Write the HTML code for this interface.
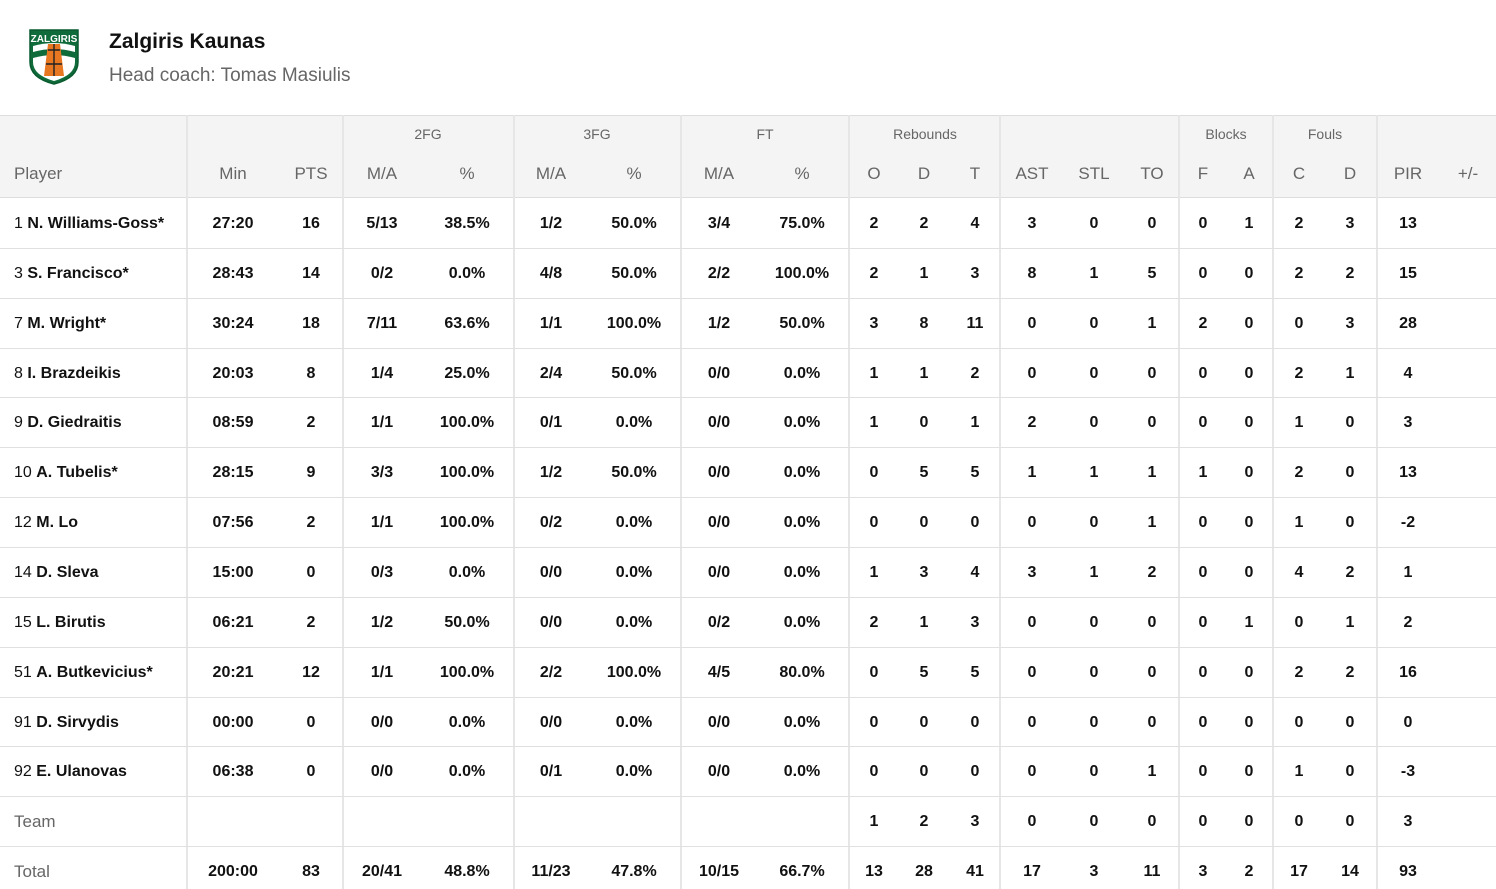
<!DOCTYPE html>
<html><head><meta charset="utf-8">
<style>
html,body{margin:0;padding:0;background:#fff;}
body{width:1496px;height:889px;position:relative;overflow:hidden;font-family:"Liberation Sans",sans-serif;}
.t{position:absolute;white-space:nowrap;}
.c{transform:translateX(-50%);}
.hl{position:absolute;left:0;width:1496px;height:1px;background:#e0e0e0;}
.vl{position:absolute;top:115px;width:2px;height:774px;background:#e6e6e6;}
.h{color:#666;font-size:17px;}
.g{color:#666;font-size:14px;}
.b{color:#111;font-size:16px;font-weight:bold;}
</style></head><body>
<svg style="position:absolute;left:28px;top:28px" width="54" height="58" viewBox="0 0 54 58">
<path d="M2 2 H50 V34 Q50 50 26 56 Q2 50 2 34 Z" fill="#0f6b3a" stroke="#0a5a30" stroke-width="1.5"/>
<path d="M5 18 Q26 12 47 18 V34 Q47 47 26 53 Q5 47 5 34 Z" fill="#fff"/>
<path d="M5 24 Q26 18 47 24 V30 Q26 24 5 30Z" fill="#0f6b3a"/>
<path d="M20 16 H32 L36 48 H16 Z" fill="#e87722"/>
<path d="M26 16 V48 M20 22 H32 M18 36 H34" stroke="#222" stroke-width="1.4"/>
<text x="26" y="14" font-family="Liberation Sans" font-size="10" font-weight="bold" fill="#fff" text-anchor="middle">ZALGIRIS</text>
</svg>
<div class="t" style="left:109px;top:30px;font-size:21px;font-weight:bold;color:#111">Zalgiris Kaunas</div>
<div class="t" style="left:109px;top:65px;font-size:19px;color:#666">Head coach: Tomas Masiulis</div>
<div style="position:absolute;left:0;top:115px;width:1496px;height:82px;background:#f4f4f4"></div>
<div id="root"></div>
<script>
var r=document.getElementById('root'),h='';
h+='<div class="hl" style="top:115px;background:#ddd"></div><div class="hl" style="top:197px;background:#ddd"></div>';
[187,343,514,681,849,1000,1179,1273,1377].forEach(function(x){h+='<div class="vl" style="left:'+(x-1)+'px"></div>';});
var X=[233,311,382,467,551,634,719,802,874,924,975,1032,1094,1152,1203,1249,1299,1350,1408,1468];
[['2FG',428],['3FG',597],['FT',765],['Rebounds',925],['Blocks',1226],['Fouls',1325]].forEach(function(g){h+='<div class="t c g" style="left:'+g[1]+'px;top:126px">'+g[0]+'</div>';});
h+='<div class="t h" style="left:14px;top:164px">Player</div>';
['Min','PTS','M/A','%','M/A','%','M/A','%','O','D','T','AST','STL','TO','F','A','C','D','PIR','+/-'].forEach(function(s,i){h+='<div class="t c h" style="left:'+X[i]+'px;top:164px">'+s+'</div>';});
var rows=[
['1','N. Williams-Goss*','27:20 16 5/13 38.5% 1/2 50.0% 3/4 75.0% 2 2 4 3 0 0 0 1 2 3 13'],
['3','S. Francisco*','28:43 14 0/2 0.0% 4/8 50.0% 2/2 100.0% 2 1 3 8 1 5 0 0 2 2 15'],
['7','M. Wright*','30:24 18 7/11 63.6% 1/1 100.0% 1/2 50.0% 3 8 11 0 0 1 2 0 0 3 28'],
['8','I. Brazdeikis','20:03 8 1/4 25.0% 2/4 50.0% 0/0 0.0% 1 1 2 0 0 0 0 0 2 1 4'],
['9','D. Giedraitis','08:59 2 1/1 100.0% 0/1 0.0% 0/0 0.0% 1 0 1 2 0 0 0 0 1 0 3'],
['10','A. Tubelis*','28:15 9 3/3 100.0% 1/2 50.0% 0/0 0.0% 0 5 5 1 1 1 1 0 2 0 13'],
['12','M. Lo','07:56 2 1/1 100.0% 0/2 0.0% 0/0 0.0% 0 0 0 0 0 1 0 0 1 0 -2'],
['14','D. Sleva','15:00 0 0/3 0.0% 0/0 0.0% 0/0 0.0% 1 3 4 3 1 2 0 0 4 2 1'],
['15','L. Birutis','06:21 2 1/2 50.0% 0/0 0.0% 0/2 0.0% 2 1 3 0 0 0 0 1 0 1 2'],
['51','A. Butkevicius*','20:21 12 1/1 100.0% 2/2 100.0% 4/5 80.0% 0 5 5 0 0 0 0 0 2 2 16'],
['91','D. Sirvydis','00:00 0 0/0 0.0% 0/0 0.0% 0/0 0.0% 0 0 0 0 0 0 0 0 0 0 0'],
['92','E. Ulanovas','06:38 0 0/0 0.0% 0/1 0.0% 0/0 0.0% 0 0 0 0 0 1 0 0 1 0 -3'],
['','Team','_ _ _ _ _ _ _ _ 1 2 3 0 0 0 0 0 0 0 3'],
['','Total','200:00 83 20/41 48.8% 11/23 47.8% 10/15 66.7% 13 28 41 17 3 11 3 2 17 14 93']];
rows.forEach(function(rw,k){
 var cy=223+k*49.85, top=Math.round(cy-8);
 if(k>0) h+='<div class="hl" style="top:'+Math.round(cy-25)+'px"></div>';
 if(rw[0]) h+='<div class="t" style="left:14px;top:'+top+'px;font-size:16px;color:#111">'+rw[0]+' <b>'+rw[1]+'</b></div>';
 else h+='<div class="t h" style="left:14px;top:'+(top-1)+'px">'+rw[1]+'</div>';
 rw[2].split(' ').forEach(function(v,i){if(v!='_')h+='<div class="t c b" style="left:'+X[i]+'px;top:'+top+'px">'+v+'</div>';});
});
r.innerHTML=h;
</script>
</body></html>
